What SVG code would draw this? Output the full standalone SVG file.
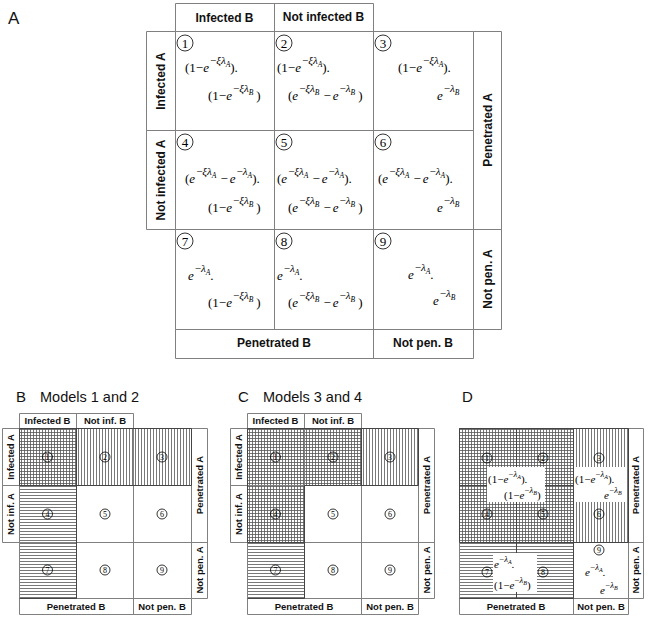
<svg xmlns="http://www.w3.org/2000/svg" width="648" height="620" viewBox="0 0 648 620">
<defs>
<style>
.ln{stroke:#808080;stroke-width:1;fill:none}
.dk{stroke:#444;stroke-width:1;fill:none}
.lb{font-family:"Liberation Sans",Arial,sans-serif;font-weight:bold;fill:#111;text-anchor:middle}
.lA{font-size:12px}
.ls{font-size:9.5px}
.ttl{font-family:"Liberation Sans",Arial,sans-serif;fill:#111}
.m{font-family:"Liberation Serif","Times New Roman",serif;font-size:13px;fill:#000}
.md{font-family:"Liberation Serif","Times New Roman",serif;font-size:11px;fill:#000}
.i{font-style:italic}
.sp{font-size:11px}
.sb{font-size:7.5px;font-style:italic}
.spd{font-size:8.5px}
.sbd{font-size:6px;font-style:italic}
.nc{fill:none;stroke:#000;stroke-width:0.8}
.nt{font-family:"Liberation Serif","Times New Roman",serif;fill:#000;text-anchor:middle}
.n12{font-size:13px}
.n8{font-size:8px}
</style>
<pattern id="pv" patternUnits="userSpaceOnUse" width="3" height="3"><path d="M0.5,0V3" stroke="#555" stroke-width="0.8"/></pattern>
<pattern id="ph" patternUnits="userSpaceOnUse" width="3" height="3"><path d="M0,0.5H3" stroke="#555" stroke-width="0.8"/></pattern>
<pattern id="px" patternUnits="userSpaceOnUse" width="3" height="3"><path d="M0.5,0V3M0,0.5H3" stroke="#555" stroke-width="0.8"/></pattern>
</defs>
<rect width="648" height="620" fill="#fff"/>

<!-- ================= Panel A ================= -->
<g id="panelA">
<text class="ttl" x="8" y="24" font-size="17">A</text>
<path class="ln" d="M175.5,3.5H373.5V31.5M175.5,3.5V31.5M274.5,3.5V31.5
M175.5,31.5H473.5V329.5H175.5ZM274.5,31.5V329.5M373.5,31.5V329.5M175.5,130.5H473.5M175.5,229.5H473.5
M146.5,31.5H175.5M146.5,31.5V229.5H175.5M146.5,130.5H175.5
M473.5,31.5H501.5V329.5H473.5M473.5,229.5H501.5
M175.5,329.5V358.5H473.5V329.5M373.5,329.5V358.5"/>
<g id="A-headers">
<text class="lb lA" x="224.5" y="22">Infected B</text>
<text class="lb lA" x="323.5" y="21">Not infected B</text>
<text class="lb lA" transform="translate(164.5,81) rotate(-90)">Infected A</text>
<text class="lb lA" transform="translate(164.5,180) rotate(-90)">Not infected A</text>
<text class="lb lA" transform="translate(491.5,130) rotate(-90)">Penetrated A</text>
<text class="lb lA" transform="translate(491.5,279) rotate(-90)">Not pen. A</text>
<text class="lb lA" x="274" y="347">Penetrated B</text>
<text class="lb lA" x="423" y="347">Not pen. B</text>
</g>

<g id="A-cell1">
<circle class="nc" cx="185" cy="43" r="8"/><text class="nt n12" x="185" y="47.5">1</text>
<text class="m" x="185" y="72">(1−<tspan class="i">e</tspan><tspan class="sp" dy="-8" dx="1">−<tspan class="i">ξλ</tspan></tspan><tspan class="sb" dy="3">A</tspan><tspan dy="5">).</tspan></text>
<text class="m" x="208" y="100">(1−<tspan class="i">e</tspan><tspan class="sp" dy="-8" dx="1">−<tspan class="i">ξλ</tspan></tspan><tspan class="sb" dy="3">B</tspan><tspan dy="5" dx="3">)</tspan></text>
</g>
<g id="A-cell2">
<circle class="nc" cx="284" cy="43" r="8"/><text class="nt n12" x="284" y="47.5">2</text>
<text class="m" x="277" y="72">(1−<tspan class="i">e</tspan><tspan class="sp" dy="-8" dx="1">−<tspan class="i">ξλ</tspan></tspan><tspan class="sb" dy="3">A</tspan><tspan dy="5">).</tspan></text>
<text class="m" x="288" y="100">(<tspan class="i">e</tspan><tspan class="sp" dy="-8" dx="1">−<tspan class="i">ξλ</tspan></tspan><tspan class="sb" dy="3">B</tspan><tspan dy="5" dx="4">−</tspan><tspan class="i" dx="2">e</tspan><tspan class="sp" dy="-8" dx="1">−<tspan class="i">λ</tspan></tspan><tspan class="sb" dy="3">B</tspan><tspan dy="5" dx="3">)</tspan></text>
</g>
<g id="A-cell3">
<circle class="nc" cx="383" cy="43" r="8"/><text class="nt n12" x="383" y="47.5">3</text>
<text class="m" x="398" y="72">(1−<tspan class="i">e</tspan><tspan class="sp" dy="-8" dx="1">−<tspan class="i">ξλ</tspan></tspan><tspan class="sb" dy="3">A</tspan><tspan dy="5">).</tspan></text>
<text class="m" x="437" y="100"><tspan class="i">e</tspan><tspan class="sp" dy="-8" dx="1">−<tspan class="i">λ</tspan></tspan><tspan class="sb" dy="3">B</tspan></text>
</g>
<g id="A-cell4">
<circle class="nc" cx="185" cy="142" r="8"/><text class="nt n12" x="185" y="146.5">4</text>
<text class="m" x="185" y="183">(<tspan class="i">e</tspan><tspan class="sp" dy="-8" dx="1">−<tspan class="i">ξλ</tspan></tspan><tspan class="sb" dy="3">A</tspan><tspan dy="5" dx="4">−</tspan><tspan class="i" dx="2">e</tspan><tspan class="sp" dy="-8" dx="1">−<tspan class="i">λ</tspan></tspan><tspan class="sb" dy="3">A</tspan><tspan dy="5">).</tspan></text>
<text class="m" x="208" y="212">(1−<tspan class="i">e</tspan><tspan class="sp" dy="-8" dx="1">−<tspan class="i">ξλ</tspan></tspan><tspan class="sb" dy="3">B</tspan><tspan dy="5" dx="3">)</tspan></text>
</g>
<g id="A-cell5">
<circle class="nc" cx="284" cy="142" r="8"/><text class="nt n12" x="284" y="146.5">5</text>
<text class="m" x="277" y="183">(<tspan class="i">e</tspan><tspan class="sp" dy="-8" dx="1">−<tspan class="i">ξλ</tspan></tspan><tspan class="sb" dy="3">A</tspan><tspan dy="5" dx="4">−</tspan><tspan class="i" dx="2">e</tspan><tspan class="sp" dy="-8" dx="1">−<tspan class="i">λ</tspan></tspan><tspan class="sb" dy="3">A</tspan><tspan dy="5">).</tspan></text>
<text class="m" x="288" y="212">(<tspan class="i">e</tspan><tspan class="sp" dy="-8" dx="1">−<tspan class="i">ξλ</tspan></tspan><tspan class="sb" dy="3">B</tspan><tspan dy="5" dx="4">−</tspan><tspan class="i" dx="2">e</tspan><tspan class="sp" dy="-8" dx="1">−<tspan class="i">λ</tspan></tspan><tspan class="sb" dy="3">B</tspan><tspan dy="5" dx="3">)</tspan></text>
</g>
<g id="A-cell6">
<circle class="nc" cx="383" cy="142" r="8"/><text class="nt n12" x="383" y="146.5">6</text>
<text class="m" x="378" y="183">(<tspan class="i">e</tspan><tspan class="sp" dy="-8" dx="1">−<tspan class="i">ξλ</tspan></tspan><tspan class="sb" dy="3">A</tspan><tspan dy="5" dx="4">−</tspan><tspan class="i" dx="2">e</tspan><tspan class="sp" dy="-8" dx="1">−<tspan class="i">λ</tspan></tspan><tspan class="sb" dy="3">A</tspan><tspan dy="5">).</tspan></text>
<text class="m" x="437" y="212"><tspan class="i">e</tspan><tspan class="sp" dy="-8" dx="1">−<tspan class="i">λ</tspan></tspan><tspan class="sb" dy="3">B</tspan></text>
</g>
<g id="A-cell7">
<circle class="nc" cx="185" cy="241" r="8"/><text class="nt n12" x="185" y="245.5">7</text>
<text class="m" x="188" y="280"><tspan class="i">e</tspan><tspan class="sp" dy="-8" dx="1">−<tspan class="i">λ</tspan></tspan><tspan class="sb" dy="3">A</tspan><tspan dy="5">.</tspan></text>
<text class="m" x="208" y="307">(1−<tspan class="i">e</tspan><tspan class="sp" dy="-8" dx="1">−<tspan class="i">ξλ</tspan></tspan><tspan class="sb" dy="3">B</tspan><tspan dy="5" dx="3">)</tspan></text>
</g>
<g id="A-cell8">
<circle class="nc" cx="284" cy="241" r="8"/><text class="nt n12" x="284" y="245.5">8</text>
<text class="m" x="277" y="280"><tspan class="i">e</tspan><tspan class="sp" dy="-8" dx="1">−<tspan class="i">λ</tspan></tspan><tspan class="sb" dy="3">A</tspan><tspan dy="5">.</tspan></text>
<text class="m" x="288" y="307">(<tspan class="i">e</tspan><tspan class="sp" dy="-8" dx="1">−<tspan class="i">ξλ</tspan></tspan><tspan class="sb" dy="3">B</tspan><tspan dy="5" dx="4">−</tspan><tspan class="i" dx="2">e</tspan><tspan class="sp" dy="-8" dx="1">−<tspan class="i">λ</tspan></tspan><tspan class="sb" dy="3">B</tspan><tspan dy="5" dx="3">)</tspan></text>
</g>
<g id="A-cell9">
<circle class="nc" cx="383" cy="241" r="8"/><text class="nt n12" x="383" y="245.5">9</text>
<text class="m" x="408" y="279"><tspan class="i">e</tspan><tspan class="sp" dy="-8" dx="1">−<tspan class="i">λ</tspan></tspan><tspan class="sb" dy="3">A</tspan><tspan dy="5">.</tspan></text>
<text class="m" x="433" y="305"><tspan class="i">e</tspan><tspan class="sp" dy="-8" dx="1">−<tspan class="i">λ</tspan></tspan><tspan class="sb" dy="3">B</tspan></text>
</g>
</g>

<!-- ================= Panel B ================= -->
<g id="panelB">
<text class="ttl" x="16" y="402" font-size="15">B</text>
<text class="ttl" x="40" y="402" font-size="14.5">Models 1 and 2</text>
<rect x="19" y="428" width="57" height="57" fill="url(#px)"/>
<rect x="76" y="428" width="115" height="57" fill="url(#pv)"/>
<rect x="19" y="485" width="57" height="113" fill="url(#ph)"/>
<path class="ln" d="M19.5,413.5H133.5V428.5M19.5,413.5V428.5M76.5,413.5V428.5
M19.5,428.5H191.5V598.5H19.5ZM76.5,428.5V598.5M133.5,428.5V598.5M19.5,485.5H191.5M19.5,542.5H191.5
M2.5,428.5H19.5M2.5,428.5V542.5H19.5M2.5,485.5H19.5
M191.5,428.5H207.5V598.5H191.5M191.5,542.5H207.5
M19.5,598.5V614.5H191.5V598.5M133.5,598.5V614.5"/>
<path class="dk" d="M19.5,428.5H191.5V485.5H19.5ZM76.5,428.5V598.5M19.5,598.5H76.5"/>
<text class="lb ls" x="47.5" y="424">Infected B</text>
<text class="lb ls" x="105" y="424">Not inf. B</text>
<text class="lb ls" transform="translate(14,457) rotate(-90)">Infected A</text>
<text class="lb ls" transform="translate(14,514) rotate(-90)">Not inf. A</text>
<text class="lb ls" transform="translate(202.5,485) rotate(-90)">Penetrated A</text>
<text class="lb ls" transform="translate(202.5,570) rotate(-90)">Not pen. A</text>
<text class="lb ls" x="76" y="610">Penetrated B</text>
<text class="lb ls" x="162" y="610">Not pen. B</text>
<g id="B-n1"><circle cx="47.5" cy="457" r="5" class="nc"/><text class="nt n8" x="47.5" y="460">1</text></g>
<g id="B-n2"><circle cx="105" cy="457" r="5" class="nc"/><text class="nt n8" x="105" y="460">2</text></g>
<g id="B-n3"><circle cx="162" cy="457" r="5" class="nc"/><text class="nt n8" x="162" y="460">3</text></g>
<g id="B-n4"><circle cx="47.5" cy="514" r="5" class="nc"/><text class="nt n8" x="47.5" y="517">4</text></g>
<g id="B-n5"><circle cx="105" cy="514" r="5" class="nc"/><text class="nt n8" x="105" y="517">5</text></g>
<g id="B-n6"><circle cx="162" cy="514" r="5" class="nc"/><text class="nt n8" x="162" y="517">6</text></g>
<g id="B-n7"><circle cx="47.5" cy="570" r="5" class="nc"/><text class="nt n8" x="47.5" y="573">7</text></g>
<g id="B-n8"><circle cx="105" cy="570" r="5" class="nc"/><text class="nt n8" x="105" y="573">8</text></g>
<g id="B-n9"><circle cx="162" cy="570" r="5" class="nc"/><text class="nt n8" x="162" y="573">9</text></g>
</g>

<!-- ================= Panel C ================= -->
<g id="panelC">
<text class="ttl" x="238" y="402" font-size="15">C</text>
<text class="ttl" x="263" y="402" font-size="14.5">Models 3 and 4</text>
<rect x="247" y="428" width="114" height="57" fill="url(#px)"/>
<rect x="247" y="485" width="57" height="57" fill="url(#px)"/>
<rect x="361" y="428" width="57" height="57" fill="url(#pv)"/>
<rect x="247" y="542" width="57" height="56" fill="url(#ph)"/>
<path class="ln" d="M247.5,413.5H361.5V428.5M247.5,413.5V428.5M304.5,413.5V428.5
M247.5,428.5H418.5V598.5H247.5ZM304.5,428.5V598.5M361.5,428.5V598.5M247.5,485.5H418.5M247.5,542.5H418.5
M230.5,428.5H247.5M230.5,428.5V542.5H247.5M230.5,485.5H247.5
M418.5,428.5H434.5V598.5H418.5M418.5,542.5H434.5
M247.5,598.5V614.5H418.5V598.5M361.5,598.5V614.5"/>
<path class="dk" d="M247.5,428.5H418.5V485.5H304.5V542.5H247.5ZM361.5,428.5V485.5M247.5,598.5H304.5V542.5"/>
<text class="lb ls" x="275.5" y="424">Infected B</text>
<text class="lb ls" x="333" y="424">Not inf. B</text>
<text class="lb ls" transform="translate(242,457) rotate(-90)">Infected A</text>
<text class="lb ls" transform="translate(242,514) rotate(-90)">Not inf. A</text>
<text class="lb ls" transform="translate(429.5,485) rotate(-90)">Penetrated A</text>
<text class="lb ls" transform="translate(429.5,570) rotate(-90)">Not pen. A</text>
<text class="lb ls" x="304" y="610">Penetrated B</text>
<text class="lb ls" x="390" y="610">Not pen. B</text>
<g id="C-n1"><circle cx="275.5" cy="457" r="5" class="nc"/><text class="nt n8" x="275.5" y="460">1</text></g>
<g id="C-n2"><circle cx="333" cy="457" r="5" class="nc"/><text class="nt n8" x="333" y="460">2</text></g>
<g id="C-n3"><circle cx="390" cy="457" r="5" class="nc"/><text class="nt n8" x="390" y="460">3</text></g>
<g id="C-n4"><circle cx="275.5" cy="514" r="5" class="nc"/><text class="nt n8" x="275.5" y="517">4</text></g>
<g id="C-n5"><circle cx="333" cy="514" r="5" class="nc"/><text class="nt n8" x="333" y="517">5</text></g>
<g id="C-n6"><circle cx="390" cy="514" r="5" class="nc"/><text class="nt n8" x="390" y="517">6</text></g>
<g id="C-n7"><circle cx="275.5" cy="570" r="5" class="nc"/><text class="nt n8" x="275.5" y="573">7</text></g>
<g id="C-n8"><circle cx="333" cy="570" r="5" class="nc"/><text class="nt n8" x="333" y="573">8</text></g>
<g id="C-n9"><circle cx="390" cy="570" r="5" class="nc"/><text class="nt n8" x="390" y="573">9</text></g>
</g>

<!-- ================= Panel D ================= -->
<g id="panelD">
<text class="ttl" x="462" y="402" font-size="15">D</text>
<rect x="459" y="428" width="114" height="114" fill="url(#px)"/>
<rect x="573" y="428" width="55" height="114" fill="url(#pv)"/>
<rect x="459" y="542" width="114" height="56" fill="url(#ph)"/>
<path class="dk" d="M516.5,428.5V598.5M459.5,485.5H573.5"/>
<rect x="487" y="467" width="58" height="35" fill="#fff"/>
<rect x="574" y="467" width="53" height="35" fill="#fff"/>
<rect x="493" y="553" width="44" height="39" fill="#fff"/>
<path class="ln" d="M459.5,428.5H628.5V598.5H459.5ZM573.5,428.5V598.5M459.5,542.5H628.5
M628.5,428.5H643.5V598.5H628.5M628.5,542.5H643.5
M459.5,598.5V614.5H628.5V598.5M573.5,598.5V614.5"/>
<path class="dk" d="M459.5,428.5H628.5V542.5H459.5ZM573.5,428.5V598.5M459.5,598.5H573.5"/>
<text class="lb ls" transform="translate(639,485) rotate(-90)">Penetrated A</text>
<text class="lb ls" transform="translate(639,570) rotate(-90)">Not pen. A</text>
<text class="lb ls" x="516" y="610">Penetrated B</text>
<text class="lb ls" x="601" y="610">Not pen. B</text>
<g id="D-n1"><circle cx="487" cy="458" r="5" class="nc"/><text class="nt n8" x="487" y="461">1</text></g>
<g id="D-n2"><circle cx="543" cy="458" r="5" class="nc"/><text class="nt n8" x="543" y="461">2</text></g>
<g id="D-n3"><circle cx="599" cy="458" r="5" class="nc"/><text class="nt n8" x="599" y="461">3</text></g>
<g id="D-n4"><circle cx="487" cy="514" r="5" class="nc"/><text class="nt n8" x="487" y="517">4</text></g>
<g id="D-n5"><circle cx="543" cy="514" r="5" class="nc"/><text class="nt n8" x="543" y="517">5</text></g>
<g id="D-n6"><circle cx="599" cy="514" r="5" class="nc"/><text class="nt n8" x="599" y="517">6</text></g>
<g id="D-n7"><circle cx="487" cy="572" r="5" class="nc"/><text class="nt n8" x="487" y="575">7</text></g>
<g id="D-n8"><circle cx="543" cy="572" r="5" class="nc"/><text class="nt n8" x="543" y="575">8</text></g>
<g id="D-n9"><circle cx="599" cy="550" r="5" class="nc"/><text class="nt n8" x="599" y="553">9</text></g>
<g id="D-f1245">
<text class="md" x="488" y="483">(1−<tspan class="i">e</tspan><tspan class="spd" dy="-6" dx="0.5">−<tspan class="i">λ</tspan></tspan><tspan class="sbd" dy="2">A</tspan><tspan dy="4">).</tspan></text>
<text class="md" x="504" y="499">(1−<tspan class="i">e</tspan><tspan class="spd" dy="-6" dx="0.5">−<tspan class="i">λ</tspan></tspan><tspan class="sbd" dy="2">B</tspan><tspan dy="4">)</tspan></text>
</g>
<g id="D-f36">
<text class="md" x="575" y="483">(1−<tspan class="i">e</tspan><tspan class="spd" dy="-6" dx="0.5">−<tspan class="i">λ</tspan></tspan><tspan class="sbd" dy="2">A</tspan><tspan dy="4">).</tspan></text>
<text class="md" x="604" y="499"><tspan class="i">e</tspan><tspan class="spd" dy="-6" dx="0.5">−<tspan class="i">λ</tspan></tspan><tspan class="sbd" dy="2">B</tspan></text>
</g>
<g id="D-f78">
<text class="md" x="494" y="568"><tspan class="i">e</tspan><tspan class="spd" dy="-6" dx="0.5">−<tspan class="i">λ</tspan></tspan><tspan class="sbd" dy="2">A</tspan><tspan dy="4">.</tspan></text>
<text class="md" x="494" y="589">(1−<tspan class="i">e</tspan><tspan class="spd" dy="-6" dx="0.5">−<tspan class="i">λ</tspan></tspan><tspan class="sbd" dy="2">B</tspan><tspan dy="4">)</tspan></text>
</g>
<g id="D-f9">
<text class="md" x="585" y="576"><tspan class="i">e</tspan><tspan class="spd" dy="-6" dx="0.5">−<tspan class="i">λ</tspan></tspan><tspan class="sbd" dy="2">A</tspan><tspan dy="4">.</tspan></text>
<text class="md" x="600" y="594"><tspan class="i">e</tspan><tspan class="spd" dy="-6" dx="0.5">−<tspan class="i">λ</tspan></tspan><tspan class="sbd" dy="2">B</tspan></text>
</g>
</g>
</svg>
